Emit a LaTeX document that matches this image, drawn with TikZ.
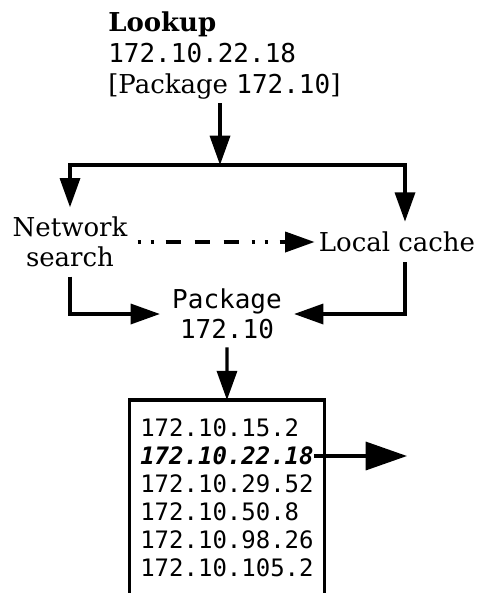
\documentclass[tikz,border=0pt]{standalone}
\usepackage{fontspec}
\setmainfont{DejaVu Serif}
\setmonofont{DejaVu Sans Mono}
\usetikzlibrary{arrows.meta,fit}

\begin{document}
\begin{tikzpicture}[x=0.75pt,y=-0.75pt,
  every node/.style={inner sep=0pt},
  wire/.style={line width=2.6pt},
  flow/.style={wire,-{Triangle[length=22pt,width=15pt]}},
  bigflow/.style={wire,-{Triangle[length=31pt,width=21pt]}},
  dashdotdot/.style={dash pattern=on 2.25pt off 7.5pt on 2.25pt off 9pt on 11.25pt off 10.5pt on 11.25pt off 10.5pt on 11.25pt off 9.75pt},
  txt/.style={font=\fontsize{19.5}{22.5}\selectfont,align=center},
  mono/.style={font=\ttfamily\fontsize{19.5}{22.5}\selectfont,align=center},
  ip/.style={font=\ttfamily\fontsize{18}{21}\selectfont,anchor=west}]
\useasboundingbox (0,0) rectangle (481,593);
\node [anchor=north west,align=left,font=\fontsize{19.5}{23.25}\selectfont] (lookup) at (108,11)
  {\textbf{Lookup}\\{\ttfamily 172.10.22.18}\\{[}Package {\ttfamily 172.10}]};
\coordinate (split) at (220,165);
\node [txt,inner xsep=7.5pt,inner ysep=7pt] (net) at (70,242) {Network\\search};
\node [txt,inner xsep=3pt,inner ysep=7.5pt] (cache) at (397,242) {Local cache};
\node [mono,inner xsep=9pt,inner ysep=6pt] (pkg) at (227,314) {Package\\172.10};
\foreach \addr [count=\i] in {172.10.15.2,{\textbf{\textit{172.10.22.18}}},172.10.29.52,172.10.50.8,172.10.98.26,172.10.105.2}
  \node [ip] (ip\i) at (140,{428+28*(\i-1)}) {\addr};
\coordinate (listend) at (226,610);
\node [fit=(ip1)(ip6)(listend),inner xsep=7.75pt,inner ysep=13.7pt] (iplist) {};
\coordinate (exit) at (407,456);
\draw [flow] ([yshift=-3pt]lookup.south -| split) -- (split);
\draw [flow] (split) -| (net.north);
\draw [flow] (split) -| ([xshift=6pt]cache.north);
\draw [flow,dashdotdot] (net) -- (cache);
\draw [flow] (net.south) |- (pkg.west);
\draw [flow] ([xshift=6pt]cache.south) |- (pkg.east);
\draw [wire] (iplist.south west) -- (iplist.north west) -- (iplist.north east) -- (iplist.south east);
\draw [flow] (pkg.south) -- (iplist.north);
\draw [bigflow] (ip2.east) -- (exit);
\end{tikzpicture}
\end{document}
